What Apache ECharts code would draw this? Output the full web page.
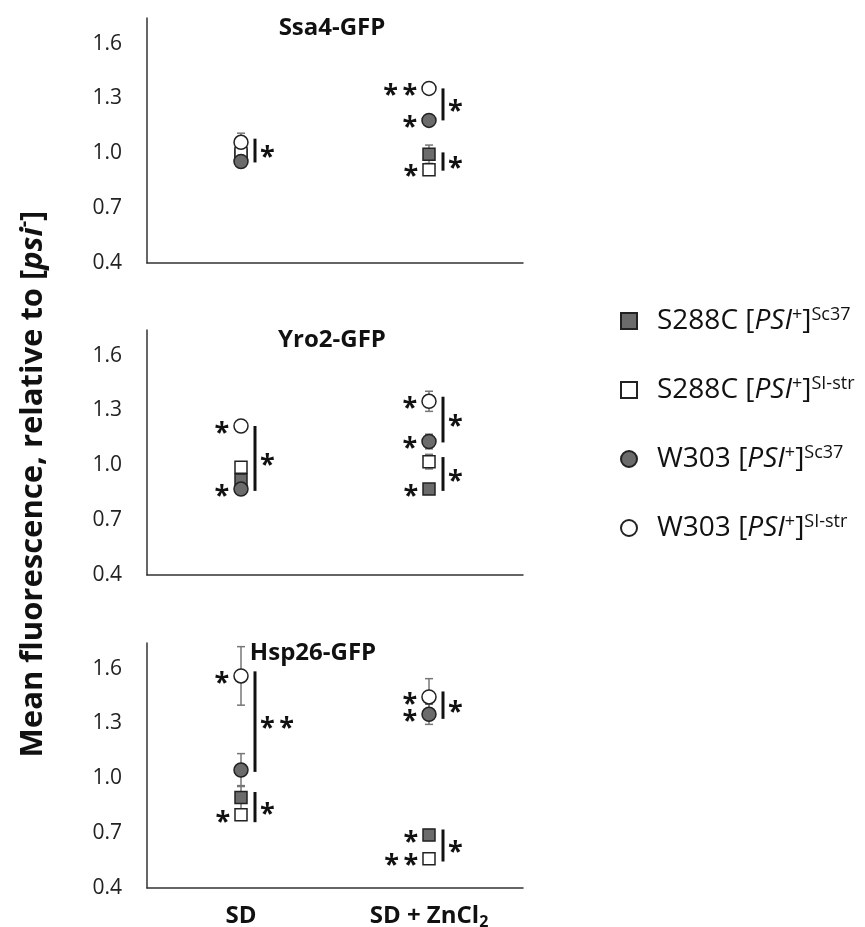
<!DOCTYPE html>
<html>
<head>
<meta charset="utf-8">
<script src="https://cdn.jsdelivr.net/npm/echarts@6/dist/echarts.min.js"></script>
<style>
html, body { margin: 0; padding: 0; background: #fff; }
#main { width: 865px; height: 927px; }
</style>
</head>
<body>
<div id="main"></div>
<script>
var conditions = ['SD', 'SD + ZnCl2'];
var reporters = ['Ssa4-GFP', 'Yro2-GFP', 'Hsp26-GFP'];
var strains = ['S288C Sc37', 'S288C SI-str', 'W303 Sc37', 'W303 SI-str'];

// means, [reporter][condition]
var s288cSc37 = [[0.99, 0.995], [0.92, 0.87], [0.895, 0.69]];
var s288cSIstr = [[1.00, 0.91], [0.99, 1.02], [0.80, 0.56]];
var w303Sc37 = [[0.955, 1.18], [0.87, 1.13], [1.045, 1.35]];
var w303SIstr = [[1.06, 1.355], [1.215, 1.35], [1.56, 1.445]];

// error bars (+/-)
var s288cSc37Err = [[0.03, 0.05], [0.02, 0.02], [0.065, 0.03]];
var s288cSIstrErr = [[0.02, 0.02], [0.02, 0.04], [0.03, 0.02]];
var w303Sc37Err = [[0.02, 0.02], [0.02, 0.04], [0.09, 0.055]];
var w303SIstrErr = [[0.05, 0.02], [0.03, 0.055], [0.16, 0.1]];

// asterisks left of each point
var s288cSc37Sig = [['', ''], ['', '*'], ['', '*']];
var s288cSIstrSig = [['', '*'], ['', ''], ['*', '**']];
var w303Sc37Sig = [['', '*'], ['*', '*'], ['', '*']];
var w303SIstrSig = [['', '**'], ['*', '*'], ['*', '*']];

// brackets: reporter, condition, from, to, label
var brackets = [
  [0, 0, 1.08, 0.95, '*'],
  [0, 1, 1.355, 1.18, '*'],
  [0, 1, 1.005, 0.905, '*'],
  [1, 0, 1.215, 0.86, '*'],
  [1, 1, 1.375, 1.125, '*'],
  [1, 1, 1.045, 0.86, '*'],
  [2, 0, 1.585, 1.035, '**'],
  [2, 0, 0.925, 0.76, '*'],
  [2, 1, 1.475, 1.325, '*'],
  [2, 1, 0.72, 0.545, '*']
];

var means = [s288cSc37, s288cSIstr, w303Sc37, w303SIstr];
var errs = [s288cSc37Err, s288cSIstrErr, w303Sc37Err, w303SIstrErr];
var sigs = [s288cSc37Sig, s288cSIstrSig, w303Sc37Sig, w303SIstrSig];

var FONT = '"Open Sans", "Liberation Sans", sans-serif';
var GRAY = '#6b6b6b';
var looks = [
  { symbol: 'rect', size: 12, color: GRAY },
  { symbol: 'rect', size: 12, color: '#fff' },
  { symbol: 'circle', size: 14, color: GRAY },
  { symbol: 'circle', size: 14, color: '#fff' }
];
var gridTops = [18, 330, 643];

function star(s) {
  return s.split('').join('\u2009');
}

var grids = [], xAxes = [], yAxes = [], series = [];

gridTops.forEach(function (top, g) {
  grids.push({ left: 147, width: 376, top: top, height: 245, containLabel: false, outerBoundsMode: 'none' });
  xAxes.push({
    gridIndex: g,
    type: 'category',
    data: conditions,
    axisLine: { show: true, lineStyle: { color: '#333', width: 1.5 } },
    axisTick: { show: false },
    axisLabel: {
      show: g === 2,
      interval: 0,
      margin: 14,
      color: '#111',
      fontFamily: FONT,
      fontWeight: 'bold',
      fontSize: 24,
      lineHeight: 28,
      formatter: function (v) {
        return v.replace('ZnCl2', 'ZnCl{sub|2}');
      },
      rich: {
        sub: { fontFamily: FONT, fontWeight: 'bold', fontSize: 16, lineHeight: 16, verticalAlign: 'bottom', color: '#111' }
      }
    }
  });
  yAxes.push({
    gridIndex: g,
    type: 'value',
    min: 0.4,
    max: 1.74,
    interval: 0.3,
    axisLine: { show: true, lineStyle: { color: '#333', width: 1.5 } },
    axisTick: { show: false },
    splitLine: { show: false },
    axisLabel: {
      showMaxLabel: false,
      margin: 25,
      color: '#222',
      fontFamily: FONT,
      fontSize: 21,
      formatter: function (v) { return v.toFixed(1); }
    }
  });

  // error bars, behind the markers
  var errData = [];
  means.forEach(function (m, s) {
    conditions.forEach(function (c, ci) {
      errData.push([ci, m[g][ci], errs[s][g][ci]]);
    });
  });
  series.push({
    type: 'custom',
    xAxisIndex: g,
    yAxisIndex: g,
    z: 1,
    silent: true,
    data: errData,
    renderItem: function (params, api) {
      var x = api.value(0), v = api.value(1), e = api.value(2);
      var hi = api.coord([x, v + e]), lo = api.coord([x, v - e]);
      var st = { stroke: '#777', lineWidth: 1.5 };
      return {
        type: 'group',
        children: [
          { type: 'line', shape: { x1: hi[0], y1: hi[1], x2: lo[0], y2: lo[1] }, style: st },
          { type: 'line', shape: { x1: hi[0] - 4, y1: hi[1], x2: hi[0] + 4, y2: hi[1] }, style: st },
          { type: 'line', shape: { x1: lo[0] - 4, y1: lo[1], x2: lo[0] + 4, y2: lo[1] }, style: st }
        ]
      };
    }
  });

  means.forEach(function (m, s) {
    series.push({
      name: strains[s],
      type: 'scatter',
      xAxisIndex: g,
      yAxisIndex: g,
      z: 2,
      symbol: looks[s].symbol,
      symbolSize: looks[s].size,
      itemStyle: { color: looks[s].color, borderColor: '#222', borderWidth: 1.5, opacity: 1 },
      label: {
        show: true,
        position: 'left',
        distance: 4,
        offset: [0, 7],
        color: '#111',
        fontFamily: FONT,
        fontWeight: 'bold',
        fontSize: 27,
        formatter: function (p) { return star(sigs[s][g][p.dataIndex]); }
      },
      emphasis: { disabled: true },
      data: m[g].map(function (v, ci) { return [ci, v]; })
    });
  });

  var own = brackets.filter(function (b) { return b[0] === g; });
  series.push({
    type: 'custom',
    xAxisIndex: g,
    yAxisIndex: g,
    z: 3,
    silent: true,
    data: own.map(function (b) { return [b[1], b[2], b[3]]; }),
    renderItem: function (params, api) {
      var b = own[params.dataIndex];
      var p1 = api.coord([api.value(0), api.value(1)]);
      var p2 = api.coord([api.value(0), api.value(2)]);
      var x = p1[0] + 14;
      return {
        type: 'group',
        children: [
          { type: 'line', shape: { x1: x, y1: p1[1], x2: x, y2: p2[1] }, style: { stroke: '#111', lineWidth: 3 } },
          {
            type: 'text',
            x: x + 5,
            y: (p1[1] + p2[1]) / 2 + 7,
            style: { text: star(b[4]), fill: '#111', fontFamily: FONT, fontWeight: 'bold', fontSize: 27, align: 'left', verticalAlign: 'middle' }
          }
        ]
      };
    }
  });
});

var titleX = [332, 332, 313];
var titles = reporters.map(function (r, g) {
  return {
    text: r,
    left: titleX[g],
    top: gridTops[g] - 2,
    textAlign: 'center',
    padding: 0,
    textStyle: { fontFamily: FONT, fontWeight: 'bold', fontSize: 24, color: '#111' }
  };
});

var legendRich = {
  a: { fontFamily: FONT, fontSize: 28, lineHeight: 30, color: '#111', padding: [0, 0, 0, 15] },
  b: { fontFamily: FONT, fontSize: 28, lineHeight: 30, color: '#111' },
  i: { fontFamily: FONT, fontSize: 28, lineHeight: 30, color: '#111', fontStyle: 'italic' },
  s: { fontFamily: FONT, fontSize: 18, lineHeight: 18, color: '#111', verticalAlign: 'top' }
};

var myChart = echarts.init(document.getElementById('main'), null, { renderer: 'canvas' });
var option = {
  animation: false,
  backgroundColor: '#fff',
  title: titles,
  grid: grids,
  xAxis: xAxes,
  yAxis: yAxes,
  legend: {
    data: strains,
    orient: 'vertical',
    left: 615,
    top: 301,
    itemGap: 40,
    itemWidth: 16,
    itemHeight: 16,
    selectedMode: false,
    textStyle: { rich: legendRich },
    formatter: function (name) {
      var parts = name.split(' ');
      return '{a|' + parts[0] + ' [}{i|PSI}{s|+}{b|]}{s|' + parts[1] + '}';
    }
  },
  graphic: [{
    type: 'text',
    x: 33,
    y: 484,
    rotation: Math.PI / 2,
    style: {
      text: 'Mean fluorescence, relative to [{i|psi}{s|-}]',
      fontFamily: FONT,
      fontWeight: 'bold',
      fontSize: 31,
      fill: '#111',
      align: 'center',
      verticalAlign: 'middle',
      rich: {
        i: { fontFamily: FONT, fontWeight: 'bold', fontSize: 31, fontStyle: 'italic', fill: '#111', lineHeight: 38 },
        s: { fontFamily: FONT, fontWeight: 'bold', fontSize: 20, fill: '#111', lineHeight: 20, verticalAlign: 'top' }
      }
    }
  }],
  series: series
};
myChart.setOption(option);
</script>
</body>
</html>
